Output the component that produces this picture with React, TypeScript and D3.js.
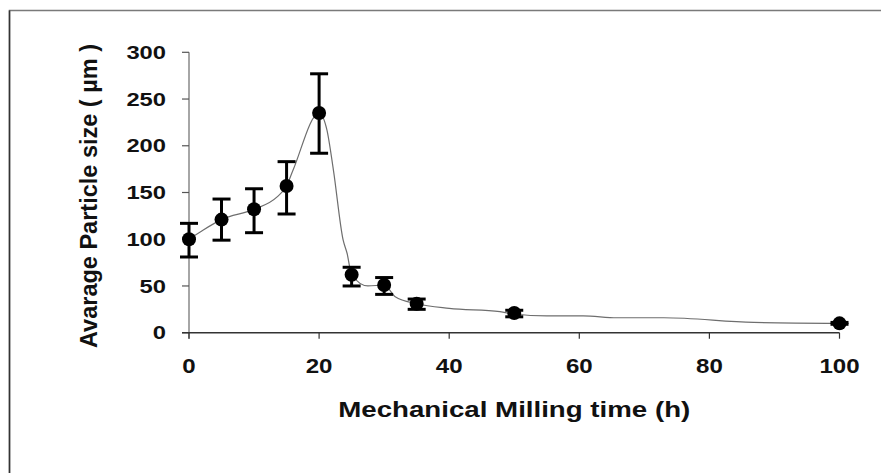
import React from 'react';
import * as d3 from 'd3';

// measured points (h, µm) with error bar ends
const hours = [0, 5, 10, 15, 20, 25, 30, 35, 50, 100];
const sizes = [100, 121, 132, 157, 235, 62, 51, 31, 21, 10];
const upper = [117, 143, 154, 183, 277, 70, 59, 36, 24, 11];
const lower = [81, 99, 107, 127, 192, 50, 41, 25, 17, 9];

// smoothed trend line
const lineX = [0, 2.2, 5, 10, 13.5, 15, 16, 20, 21.2, 22.2, 23.7, 24.3, 25, 27.5, 30, 31.7, 35, 40, 47.8, 50, 55, 60.6, 65.8, 73, 86.8, 100];
const lineY = [100, 110, 121, 132, 145, 157, 174, 235, 217, 174, 99, 85, 62, 50, 51, 38.5, 31, 26, 22.5, 20, 18, 18, 16, 16, 11, 10];

const yTicks = [0, 50, 100, 150, 200, 250, 300];
const xTicks = [0, 20, 40, 60, 80, 100];

const W = 881;
const H = 473;
const font = '"Liberation Sans", Arial, sans-serif';

export default function App() {
  const x = d3.scaleLinear().domain([0, 100]).range([189, 839.5]);
  const y = d3.scaleLinear().domain([0, 300]).range([332.7, 52.3]);

  const pts = lineX.map((v, i) => [v, lineY[i]] as [number, number]);
  const path = d3.line<[number, number]>()
    .x(d => x(d[0]))
    .y(d => y(d[1]))
    .curve(d3.curveMonotoneX)(pts) || '';

  return (
    <svg width={W} height={H} style={{ position: 'absolute', left: 0, top: 0, background: '#fff' }}>
      <rect x={9.5} y={10.5} width={1000} height={600} fill="none" stroke="#7a7a7a" strokeWidth={1.5} />
      <line x1={9.5} x2={9.5} y1={10.5} y2={H} stroke="#333" strokeWidth={1.5} />

      {/* y axis */}
      <line x1={x(0)} x2={x(0)} y1={y(300)} y2={y(0) + 6} stroke="#888" strokeWidth={1.5} />
      {yTicks.map(t => (
        <g key={'y' + t}>
          <line x1={x(0) - 7} x2={x(0)} y1={y(t)} y2={y(t)} stroke="#555" strokeWidth={1.2} />
          <text x={166} y={y(t)} dy="0.36em" textAnchor="end" fontFamily={font} fontWeight="bold"
            fontSize={18.5} textLength={String(t).length * 13.2} lengthAdjust="spacingAndGlyphs" fill="#111">{t}</text>
        </g>
      ))}

      {/* x axis */}
      <line x1={x(0) - 7} x2={x(100)} y1={y(0)} y2={y(0)} stroke="#333" strokeWidth={1.5} />
      {xTicks.map(t => (
        <g key={'x' + t}>
          <line x1={x(t)} x2={x(t)} y1={y(0)} y2={y(0) + 6} stroke="#333" strokeWidth={1.2} />
          <text x={x(t)} y={373} textAnchor="middle" fontFamily={font} fontWeight="bold"
            fontSize={21} textLength={String(t).length * 13.4} lengthAdjust="spacingAndGlyphs" fill="#111">{t}</text>
        </g>
      ))}

      <text x={(x(0) + x(100)) / 2} y={417} textAnchor="middle" fontFamily={font} fontWeight="bold"
        fontSize={22} textLength={352} lengthAdjust="spacingAndGlyphs" fill="#111">Mechanical Milling time (h)</text>
      <text transform="translate(97,196) rotate(-90)" textAnchor="middle" fontFamily={font} fontWeight="bold"
        fontSize={23} textLength={304} lengthAdjust="spacingAndGlyphs" fill="#111">Avarage Particle size ( µm )</text>

      <path d={path} fill="none" stroke="#6e6e6e" strokeWidth={1.2} />

      {hours.map((h, i) => (
        <g key={'p' + h}>
          <line x1={x(h)} x2={x(h)} y1={y(upper[i])} y2={y(lower[i])} stroke="#000" strokeWidth={3} />
          <line x1={x(h) - 9} x2={x(h) + 9} y1={y(upper[i])} y2={y(upper[i])} stroke="#000" strokeWidth={3} />
          <line x1={x(h) - 9} x2={x(h) + 9} y1={y(lower[i])} y2={y(lower[i])} stroke="#000" strokeWidth={3} />
          <circle cx={x(h)} cy={y(sizes[i])} r={7} fill="#000" />
        </g>
      ))}
    </svg>
  );
}
